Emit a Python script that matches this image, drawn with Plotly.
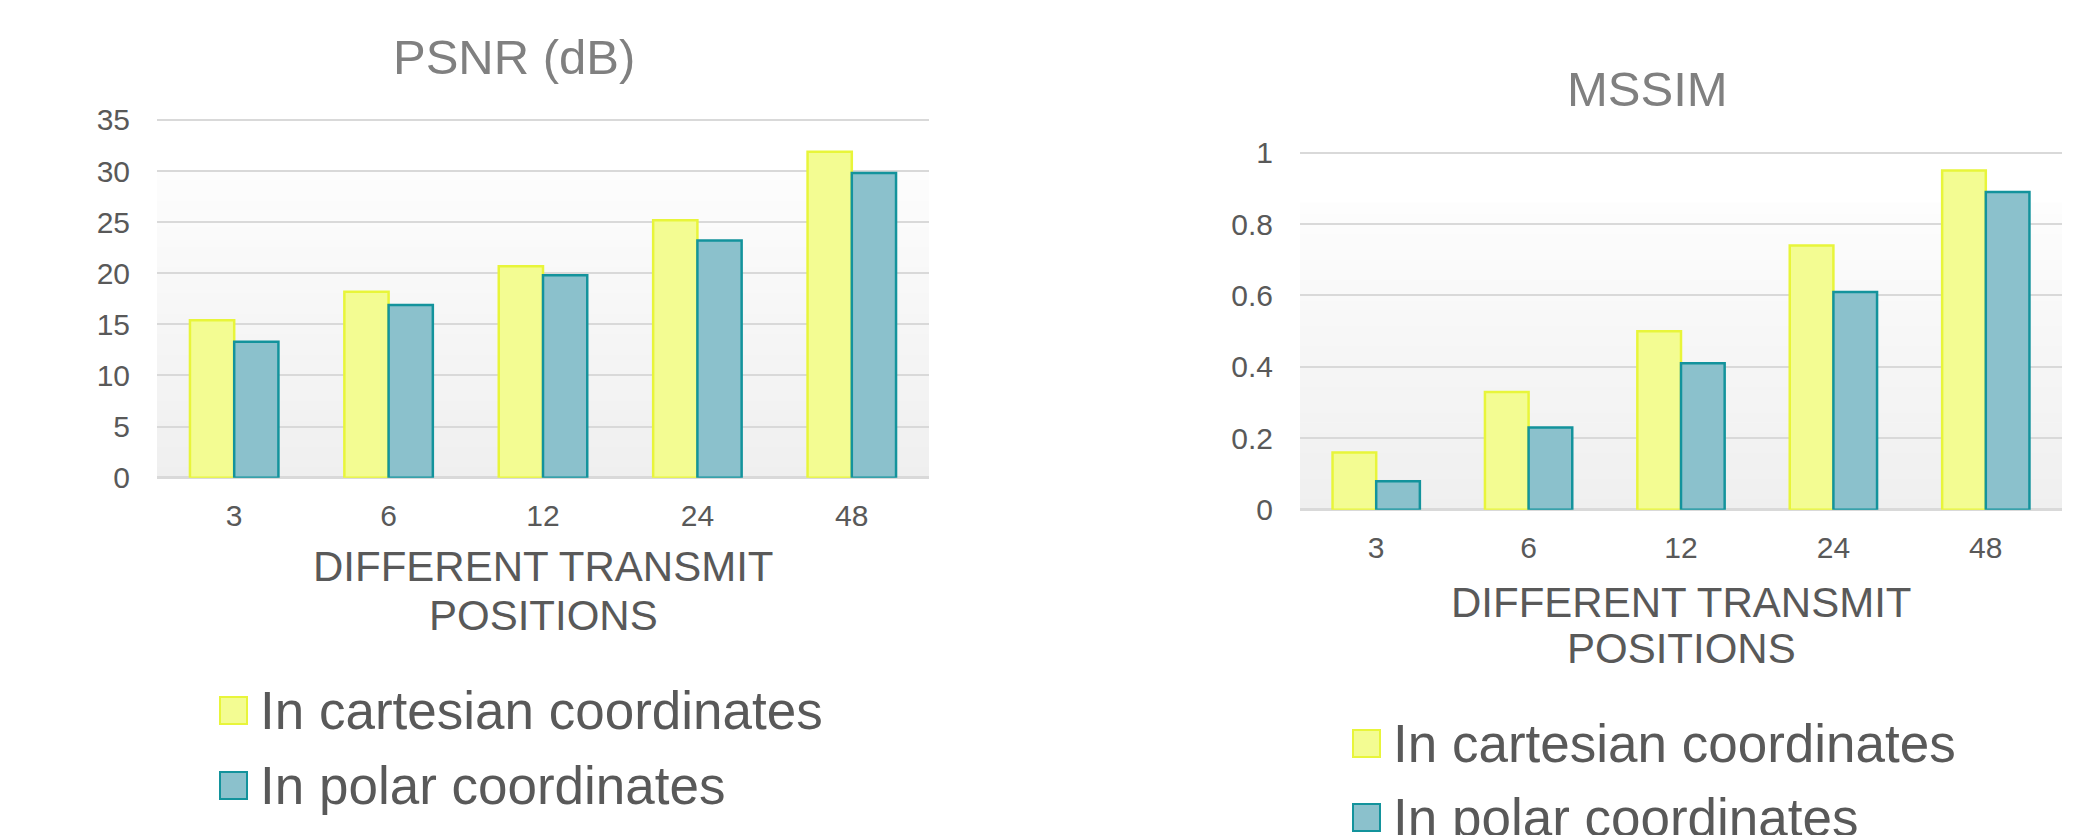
import plotly.graph_objects as go

# ---- data ----
positions = ["3", "6", "12", "24", "48"]
psnr_cartesian = [15.4, 18.2, 20.7, 25.2, 31.9]
psnr_polar = [13.3, 16.9, 19.8, 23.2, 29.8]
mssim_cartesian = [0.16, 0.33, 0.50, 0.74, 0.95]
mssim_polar = [0.08, 0.23, 0.41, 0.61, 0.89]
series_names = ["In cartesian coordinates", "In polar coordinates"]
chart_titles = ["PSNR (dB)", "MSSIM"]
x_title_lines = ["DIFFERENT TRANSMIT", "POSITIONS"]
psnr_ticks = [0, 5, 10, 15, 20, 25, 30, 35]
mssim_ticks = [0, 0.2, 0.4, 0.6, 0.8, 1]

# ---- page geometry / styling ----
W, H = 2074, 835
FONT = "Liberation Sans, Arial, sans-serif"
TEXT = "#595959"
TITLE = "#808080"
GRID = "#d9d9d9"
FILL = ["#f3fc92", "#8bc1cc"]
EDGE = ["#e8f53a", "#13939c"]


def px_x(x):
    return x / W


def px_y(y):
    return 1 - y / H


fig = go.Figure()

# the value range is padded slightly above the top tick so its gridline is kept;
# the domain top is moved up by the same amount so the scale stays put
panels = [
    dict(xa="x", ya="y", xd=(157, 929), yd=(116.4, 477.7), vals=(psnr_cartesian, psnr_polar),
         ticks=psnr_ticks, rng=[0, 35.35], title=chart_titles[0], title_xy=(514, 56.7),
         xt_y=(566.7, 615), legend=(220, 258, (697, 772))),
    dict(xa="x2", ya="y2", xd=(1300, 2062), yd=(149.1, 509.7), vals=(mssim_cartesian, mssim_polar),
         ticks=mssim_ticks, rng=[0, 1.01], title=chart_titles[1], title_xy=(1647.5, 89),
         xt_y=(602, 648), legend=(1353, 1391, (730, 804))),
]

shapes = []
annotations = []

for p in panels:
    for k, (vals, name) in enumerate(zip(p["vals"], series_names)):
        fig.add_trace(go.Bar(
            x=positions, y=vals, name=name, xaxis=p["xa"], yaxis=p["ya"],
            marker=dict(color=FILL[k], line=dict(color=EDGE[k], width=2.5)),
            showlegend=False, hoverinfo="x+y+name",
        ))

    xkey = "xaxis" if p["xa"] == "x" else "xaxis2"
    ykey = "yaxis" if p["ya"] == "y" else "yaxis2"
    fig.update_layout(**{
        xkey: dict(domain=[px_x(p["xd"][0]), px_x(p["xd"][1])], anchor=p["ya"], type="category",
                   showgrid=False, showline=False, ticks="", ticklabelstandoff=17,
                   automargin=False,
                   tickfont=dict(family=FONT, size=30, color=TEXT)),
        ykey: dict(domain=[px_y(p["yd"][1]), px_y(p["yd"][0])], anchor=p["xa"], range=p["rng"],
                   tickvals=p["ticks"], showgrid=True, gridcolor=GRID, gridwidth=2,
                   zeroline=True, zerolinecolor=GRID, zerolinewidth=3, showline=False,
                   ticks="", ticklabelstandoff=26, automargin=False,
                   tickfont=dict(family=FONT, size=30, color=TEXT)),
    })

    # soft vertical background shading inside the plot area
    n = 60
    top = 0.85
    for i in range(n):
        f0 = i / n
        f1 = (i + 1) / n
        t = (f0 + f1) / 2
        c = int(round(239 + (253 - 239) * t))
        shapes.append(dict(type="rect", xref=f"{p['xa']} domain", yref=f"{p['ya']} domain",
                           x0=0, x1=1, y0=f0 * top, y1=f1 * top + 0.002, layer="below",
                           line=dict(width=0), fillcolor=f"rgb({c},{c},{c})"))

    # chart title
    annotations.append(dict(text=p["title"], xref="paper", yref="paper",
                            x=px_x(p["title_xy"][0]), y=px_y(p["title_xy"][1]),
                            xanchor="center", yanchor="middle", showarrow=False,
                            font=dict(family=FONT, size=49, color=TITLE)))

    # category axis title, two lines
    xc = (p["xd"][0] + p["xd"][1]) / 2
    for line, yy in zip(x_title_lines, p["xt_y"]):
        annotations.append(dict(text=line, xref="paper", yref="paper",
                                x=px_x(xc), y=px_y(yy), xanchor="center", yanchor="middle",
                                showarrow=False, font=dict(family=FONT, size=42, color=TEXT)))

    # legend entries under each chart
    sq_x, tx_x, rows = p["legend"]
    for k, name in enumerate(series_names):
        y0 = rows[k]
        shapes.append(dict(type="rect", xref="paper", yref="paper",
                           x0=px_x(sq_x), x1=px_x(sq_x + 27), y0=px_y(y0 + 27), y1=px_y(y0),
                           fillcolor=FILL[k], line=dict(color=EDGE[k], width=2)))
        annotations.append(dict(text=name, xref="paper", yref="paper",
                                x=px_x(tx_x), y=px_y(y0 + 13.5), xanchor="left", yanchor="middle",
                                showarrow=False, font=dict(family=FONT, size=53, color=TEXT)))

fig.update_layout(
    width=W, height=H, autosize=False,
    margin=dict(l=0, r=0, t=0, b=0, autoexpand=False),
    paper_bgcolor="white", plot_bgcolor="rgba(0,0,0,0)",
    bargap=0.427, bargroupgap=0, barmode="group",
    showlegend=False,
    shapes=shapes, annotations=annotations,
    font=dict(family=FONT, color=TEXT),
)

fig.write_html("out.html")
